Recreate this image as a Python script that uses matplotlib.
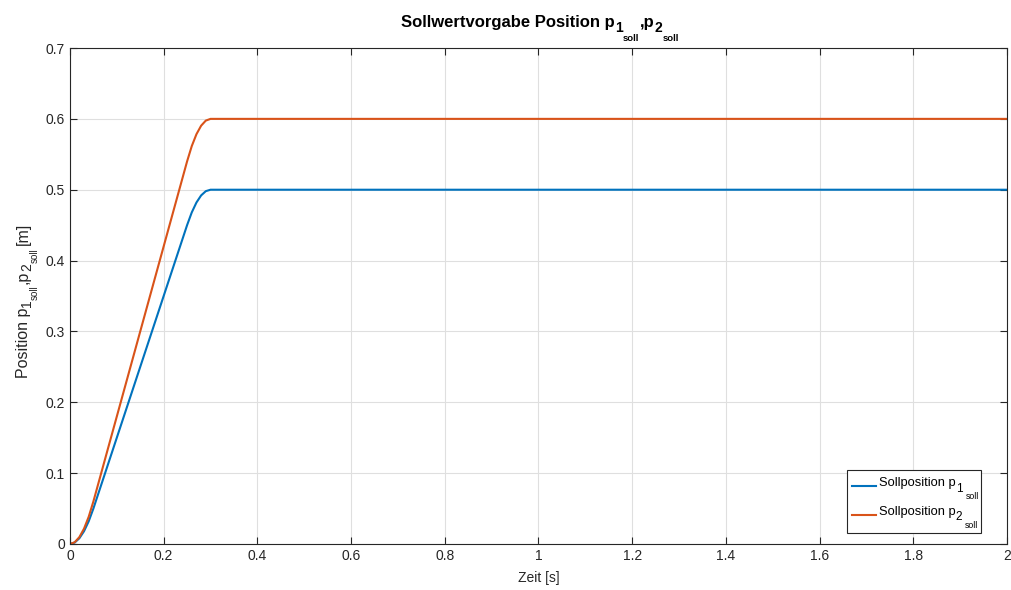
import numpy as np
import matplotlib
matplotlib.use("Agg")
import matplotlib.pyplot as plt
from matplotlib.patches import Rectangle

# ---- Data ----
t = [0.0, 0.01, 0.02, 0.03, 0.04, 0.05, 0.10, 0.15, 0.20, 0.25,
     0.26, 0.27, 0.28, 0.29, 0.30, 2.0]
p1_soll = [0.0, 0.002, 0.008, 0.018, 0.032, 0.050, 0.150, 0.250, 0.350, 0.450,
           0.468, 0.482, 0.492, 0.498, 0.500, 0.500]
p2_soll = [0.0, 0.0024, 0.0096, 0.0216, 0.0384, 0.060, 0.180, 0.300, 0.420, 0.540,
           0.5616, 0.5784, 0.5904, 0.5976, 0.600, 0.600]
xticks = [0, 0.2, 0.4, 0.6, 0.8, 1, 1.2, 1.4, 1.6, 1.8, 2]
xtick_labels = ["0", "0.2", "0.4", "0.6", "0.8", "1", "1.2", "1.4", "1.6", "1.8", "2"]
yticks = [0, 0.1, 0.2, 0.3, 0.4, 0.5, 0.6, 0.7]
ytick_labels = ["0", "0.1", "0.2", "0.3", "0.4", "0.5", "0.6", "0.7"]
series_labels = ["Sollposition p", "Sollposition p"]
series_index = ["1", "2"]

# ---- Style ----
plt.rcParams["font.family"] = ["Liberation Sans", "DejaVu Sans"]
DARK = "#262626"
W, H = 1011, 590

fig = plt.figure(figsize=(W / 100, H / 100), dpi=100)
ax = fig.add_axes([0.0692, 0.078, 0.9268, 0.8406])

ax.plot(t, p1_soll, color="#0072BD", lw=1.5, label=series_labels[0])
ax.plot(t, p2_soll, color="#D95319", lw=1.5, label=series_labels[1])

ax.set_xlim(0, 2)
ax.set_ylim(0, 0.7)
ax.set_xticks(xticks)
ax.set_xticklabels(xtick_labels)
ax.set_yticks(yticks)
ax.set_yticklabels(ytick_labels)
ax.grid(True, color="#dfdfdf", lw=0.8)
ax.set_axisbelow(True)
ax.tick_params(direction="in", top=True, right=True, length=5, width=0.8,
               colors=DARK, labelsize=10)
for sp in ax.spines.values():
    sp.set_color(DARK)
    sp.set_linewidth(0.8)
ax.set_xlabel("Zeit [s]", fontsize=10, color=DARK, labelpad=6)

leg = ax.legend(loc="upper left", bbox_to_anchor=(847 / W, 1 - 472.5 / H),
                bbox_transform=fig.transFigure, borderaxespad=0, frameon=False,
                fontsize=9.3, handlelength=1.9, handletextpad=0.2,
                borderpad=0.35, labelspacing=1.3)
leg.set_zorder(5)
for ln in leg.get_lines():
    ln.set_ydata(np.asarray(ln.get_ydata()) - 3.5)
for txt in leg.get_texts():
    txt.set_color("black")

fig.canvas.draw()
renderer = fig.canvas.get_renderer()


def chain(pieces, x, y, ha="center", rotation=0, color="black", weight="normal"):
    # pieces: (text, fontsize, drop_px, gap_px); x, y in pixels from bottom-left
    arts, widths = [], []
    for s, fs, drop, gap in pieces:
        a = fig.text(0, 0, s, fontsize=fs, fontweight=weight, color=color,
                     ha="left", va="baseline", rotation_mode="anchor")
        widths.append(a.get_window_extent(renderer).width)
        arts.append(a)
    total = sum(widths) + sum(p[3] for p in pieces[1:])
    pos = -total / 2 if ha == "center" else 0
    for i, (a, w, p) in enumerate(zip(arts, widths, pieces)):
        if i > 0:
            pos += p[3]
        if rotation == 0:
            a.set_position(((x + pos) / W, (y - p[2]) / H))
        else:
            a.set_position(((x + p[2]) / W, (y + pos) / H))
            a.set_rotation(rotation)
        pos += w
    return arts


# title with nested subscripts
chain([("Sollwertvorgabe Position p", 12, 0, 0), ("1", 10, 5, 0),
       ("soll", 6.8, 14, 0), (",p", 12, 0, 1), ("2", 10, 5, 0),
       ("soll", 6.8, 14, 0)],
      540, H - 26.7, weight="bold")

# y label
chain([("Position p", 11.5, 0, 0), ("1", 10, 3.5, 0), ("soll", 7, 10, 0),
       (",p", 11.5, 0, 0.5), ("2", 10, 3.5, 0), ("soll", 7, 10, 0),
       ("[m]", 11.5, 0, 4)],
      27.7, H - 300, rotation=90, color=DARK)

# legend subscripts and frame
tmp = fig.text(0, 0, series_labels[0], fontsize=9.3)
main_w = tmp.get_window_extent(renderer).width
tmp.remove()
sub_boxes = []
for txt, idx in zip(leg.get_texts(), series_index):
    bx, by = txt.get_transform().transform(txt.get_position())
    arts = chain([(idx, 8.5, 5.5, 0), ("soll", 6.3, 13, 3)],
                 bx + main_w + 0.5, by, ha="left")
    sub_boxes += [a.get_window_extent(renderer) for a in arts]
lb = leg.get_window_extent(renderer)
x0, y1 = lb.x0, lb.y1 + 2.5
x1 = max(b.x1 for b in sub_boxes) + 2.5
y0 = min(b.y0 for b in sub_boxes) - 3
ax.add_patch(Rectangle((x0 / W, y0 / H), (x1 - x0) / W, (y1 - y0) / H,
                       transform=fig.transFigure, facecolor="white",
                       edgecolor=DARK, lw=0.8, zorder=4.9, clip_on=False))

fig.savefig("out.png", dpi=100)
